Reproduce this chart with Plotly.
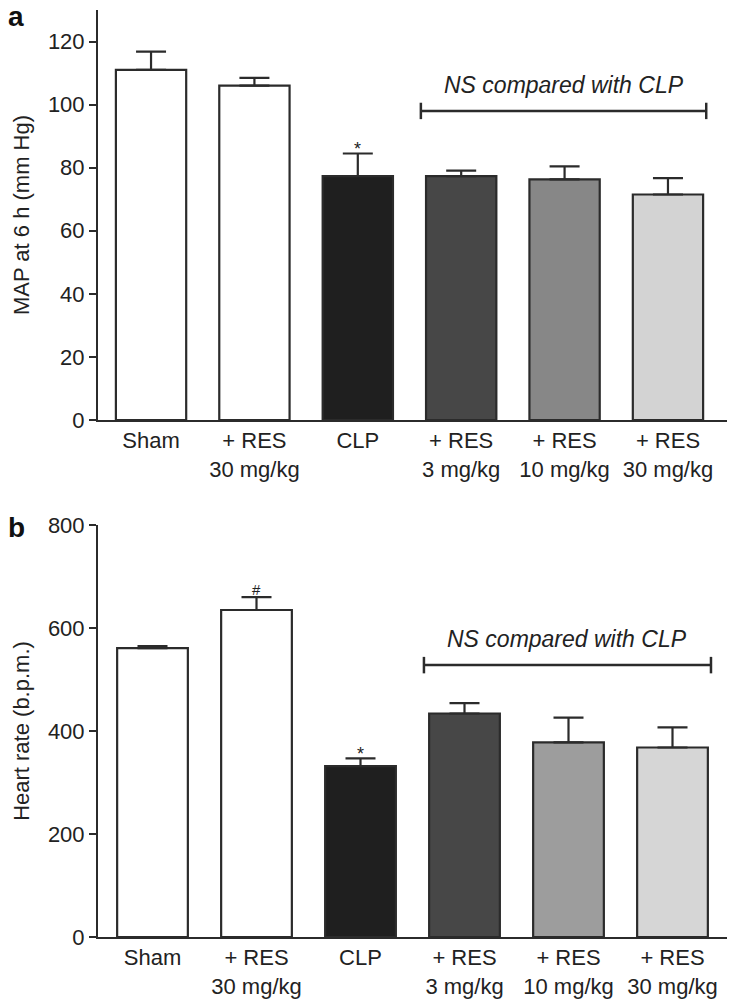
import plotly.graph_objects as go
from plotly.subplots import make_subplots

categories = ["Sham", "+ RES<br>30 mg/kg", "CLP", "+ RES<br>3 mg/kg", "+ RES<br>10 mg/kg", "+ RES<br>30 mg/kg"]
map_values = [111.0, 106.0, 77.3, 77.3, 76.3, 71.5]
map_errors = [5.8, 2.5, 7.2, 1.8, 4.1, 5.2]
hr_values = [561, 635, 332, 434, 378, 368]
hr_errors = [4, 25, 15, 20, 48, 39]
colors_a = ["#ffffff", "#ffffff", "#1f1f1f", "#474747", "#878787", "#d3d3d3"]
colors_b = ["#ffffff", "#ffffff", "#1f1f1f", "#474747", "#9d9d9d", "#d6d6d6"]

# annotations
ns_text = "NS compared with CLP"
ns_x = [2.61, 5.37]
ns_y_a = 98.0
ns_y_b = 528.0

FONT = "Liberation Sans, Arial, Helvetica, sans-serif"
LINE = "#2b2b2b"
TXT = "#222222"

fig = make_subplots(rows=2, cols=1)
xs = list(range(len(categories)))

fig.add_trace(go.Bar(
    x=xs, y=map_values, width=0.68,
    marker=dict(color=colors_a, line=dict(color=LINE, width=2.2)),
    error_y=dict(type="data", symmetric=False, array=map_errors,
                 arrayminus=[0] * 6, color=LINE, thickness=2.2, width=15),
    showlegend=False, hoverinfo="skip"), row=1, col=1)
fig.add_trace(go.Bar(
    x=xs, y=hr_values, width=0.68,
    marker=dict(color=colors_b, line=dict(color=LINE, width=2.2)),
    error_y=dict(type="data", symmetric=False, array=hr_errors,
                 arrayminus=[0] * 6, color=LINE, thickness=2.2, width=15),
    showlegend=False, hoverinfo="skip"), row=2, col=1)

xaxis_common = dict(tickmode="array", tickvals=xs, ticktext=categories,
                    showline=True, linecolor=LINE, linewidth=2, ticks="", showgrid=False,
                    zeroline=False, automargin=False,
                    tickfont=dict(family=FONT, size=22, color=TXT))
fig.update_xaxes(**xaxis_common, range=[-0.513, 5.571], row=1, col=1)
fig.update_xaxes(**xaxis_common, range=[-0.524, 5.524], row=2, col=1)

yaxis_common = dict(showline=True, linecolor=LINE, linewidth=2, ticks="outside", ticklen=7,
                    tickwidth=2, tickcolor=LINE, showgrid=False, zeroline=False, automargin=False,
                    tickfont=dict(family=FONT, size=22, color=TXT))
fig.update_yaxes(**yaxis_common, range=[0, 130], tickvals=[0, 20, 40, 60, 80, 100, 120],
                 title=dict(text="MAP at 6 h (mm Hg)", font=dict(family=FONT, size=22, color=TXT),
                            standoff=12), row=1, col=1)
fig.update_yaxes(**yaxis_common, range=[0, 800], tickvals=[0, 200, 400, 600, 800],
                 title=dict(text="Heart rate (b.p.m.)", font=dict(family=FONT, size=22, color=TXT),
                            standoff=12), row=2, col=1)

fig.update_layout(
    width=729, height=1007, margin=dict(l=98, r=2, t=10, b=70, autoexpand=False),
    plot_bgcolor="white", paper_bgcolor="white", hovermode=False,
)
fig.update_layout(yaxis=dict(domain=[0.5577, 1.0]), yaxis2=dict(domain=[0.0, 0.4444]))

shapes = []
for xref, yref, y, cap in [("x", "y", ns_y_a, 2.6), ("x2", "y2", ns_y_b, 16)]:
    shapes.append(dict(type="line", xref=xref, yref=yref, x0=ns_x[0], x1=ns_x[1], y0=y, y1=y,
                       line=dict(color=LINE, width=2.5)))
    for xx in ns_x:
        shapes.append(dict(type="line", xref=xref, yref=yref, x0=xx, x1=xx, y0=y - cap, y1=y + cap,
                           line=dict(color=LINE, width=2.5)))
fig.update_layout(shapes=shapes)

ann = []
ann.append(dict(text="<i>" + ns_text + "</i>", xref="x", yref="y", x=sum(ns_x) / 2, y=ns_y_a + 3.5,
                yanchor="bottom", showarrow=False, font=dict(family=FONT, size=23, color=TXT)))
ann.append(dict(text="<i>" + ns_text + "</i>", xref="x2", yref="y2", x=sum(ns_x) / 2, y=ns_y_b + 22,
                yanchor="bottom", showarrow=False, font=dict(family=FONT, size=23, color=TXT)))
ann.append(dict(text="*", xref="x", yref="y", x=2, y=map_values[2] + map_errors[2] - 2.5,
                yanchor="bottom", showarrow=False, font=dict(family=FONT, size=18, color=TXT)))
ann.append(dict(text="*", xref="x2", yref="y2", x=2, y=hr_values[2] + hr_errors[2] - 14,
                yanchor="bottom", showarrow=False, font=dict(family=FONT, size=18, color=TXT)))
ann.append(dict(text="#", xref="x2", yref="y2", x=1, y=hr_values[1] + hr_errors[1] - 6,
                yanchor="bottom", showarrow=False, font=dict(family=FONT, size=15, color=TXT)))
ann.append(dict(text="<b>a</b>", xref="paper", yref="paper", x=-0.146, y=0.9935, xanchor="left",
                yanchor="middle", showarrow=False, font=dict(family=FONT, size=28, color="#111")))
ann.append(dict(text="<b>b</b>", xref="paper", yref="paper", x=-0.146, y=0.4415, xanchor="left",
                yanchor="middle", showarrow=False, font=dict(family=FONT, size=28, color="#111")))
fig.update_layout(annotations=ann)

fig.write_html("out.html", config={"displayModeBar": False},
               post_script="document.body.style.margin='0px';")
